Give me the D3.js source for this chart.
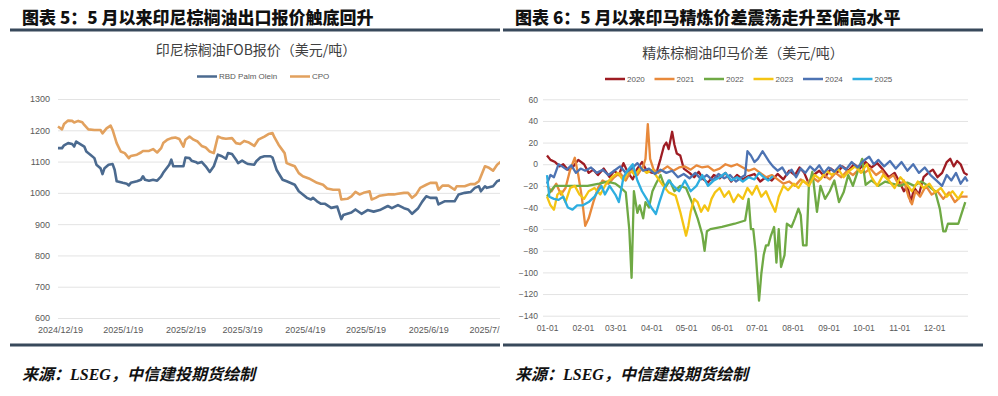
<!DOCTYPE html>
<html>
<head>
<meta charset="utf-8">
<script src="https://cdn.jsdelivr.net/npm/d3@7"></script>
<style>
  body { margin: 0; background: #fff; }
  svg text { font-family: "Noto Sans CJK SC", "Noto Sans", sans-serif; }
</style>
</head>
<body>
<svg id="page" width="998" height="396"></svg>
<script>
// ---------- 图表5 data ----------
const fobSeriesNames = ['RBD Palm Olein', 'CPO'];
const fobTickLabels = ['2024/12/19', '2025/1/19', '2025/2/19', '2025/3/19', '2025/4/19', '2025/5/19', '2025/6/19', '2025/7/19'];
const fobYTicks = [600, 700, 800, 900, 1000, 1100, 1200, 1300];

const rbdOlein = [["2024-12-18",1143],["2024-12-20",1143],["2024-12-21",1152],["2024-12-23",1159],["2024-12-25",1156],["2024-12-26",1148],["2024-12-27",1164],["2024-12-29",1156],["2024-12-31",1148],["2025-01-01",1132],["2025-01-03",1122],["2025-01-05",1111],["2025-01-06",1090],["2025-01-08",1079],["2025-01-09",1060],["2025-01-10",1079],["2025-01-12",1090],["2025-01-14",1092],["2025-01-15",1074],["2025-01-16",1037],["2025-01-19",1032],["2025-01-21",1029],["2025-01-22",1024],["2025-01-23",1032],["2025-01-26",1037],["2025-01-28",1042],["2025-01-29",1053],["2025-01-30",1042],["2025-02-01",1039],["2025-02-03",1042],["2025-02-05",1039],["2025-02-07",1053],["2025-02-08",1064],["2025-02-11",1090],["2025-02-12",1106],["2025-02-13",1085],["2025-02-16",1085],["2025-02-18",1085],["2025-02-19",1113],["2025-02-21",1111],["2025-02-22",1103],["2025-02-24",1099],["2025-02-25",1095],["2025-02-27",1099],["2025-03-01",1085],["2025-03-03",1067],["2025-03-05",1085],["2025-03-07",1122],["2025-03-09",1117],["2025-03-11",1109],["2025-03-12",1127],["2025-03-14",1124],["2025-03-16",1106],["2025-03-17",1095],["2025-03-19",1103],["2025-03-21",1095],["2025-03-22",1092],["2025-03-25",1090],["2025-03-26",1101],["2025-03-28",1113],["2025-03-30",1117],["2025-04-02",1117],["2025-04-03",1113],["2025-04-05",1074],["2025-04-08",1042],["2025-04-10",1037],["2025-04-14",1026],["2025-04-16",1005],["2025-04-18",995],["2025-04-20",984],["2025-04-22",979],["2025-04-23",984],["2025-04-25",973],["2025-04-27",965],["2025-04-29",965],["2025-05-02",952],["2025-05-05",956],["2025-05-07",916],["2025-05-08",929],["2025-05-12",937],["2025-05-14",947],["2025-05-17",933],["2025-05-20",945],["2025-05-23",940],["2025-05-26",945],["2025-05-30",958],["2025-06-01",951],["2025-06-04",961],["2025-06-07",951],["2025-06-09",947],["2025-06-11",933],["2025-06-14",951],["2025-06-16",972],["2025-06-18",989],["2025-06-20",984],["2025-06-23",984],["2025-06-24",963],["2025-06-27",973],["2025-06-29",973],["2025-07-02",973],["2025-07-04",995],["2025-07-07",1000],["2025-07-10",1003],["2025-07-12",1016],["2025-07-14",1021],["2025-07-15",1005],["2025-07-17",1021],["2025-07-18",1016],["2025-07-21",1021],["2025-07-23",1037],["2025-07-25",1042]];

const cpo = [["2024-12-18",1212],["2024-12-20",1203],["2024-12-21",1220],["2024-12-23",1231],["2024-12-25",1230],["2024-12-26",1225],["2024-12-28",1230],["2024-12-30",1226],["2024-12-31",1217],["2025-01-02",1203],["2025-01-05",1201],["2025-01-08",1201],["2025-01-09",1190],["2025-01-10",1198],["2025-01-11",1206],["2025-01-13",1215],["2025-01-14",1201],["2025-01-16",1159],["2025-01-18",1132],["2025-01-20",1127],["2025-01-22",1111],["2025-01-23",1118],["2025-01-26",1122],["2025-01-28",1129],["2025-01-29",1134],["2025-02-01",1134],["2025-02-03",1140],["2025-02-05",1129],["2025-02-07",1143],["2025-02-08",1159],["2025-02-10",1170],["2025-02-12",1175],["2025-02-14",1177],["2025-02-16",1172],["2025-02-18",1148],["2025-02-19",1170],["2025-02-21",1180],["2025-02-23",1170],["2025-02-25",1164],["2025-02-27",1150],["2025-03-01",1145],["2025-03-03",1132],["2025-03-05",1127],["2025-03-07",1180],["2025-03-09",1175],["2025-03-11",1173],["2025-03-14",1175],["2025-03-16",1159],["2025-03-18",1156],["2025-03-20",1166],["2025-03-22",1162],["2025-03-25",1150],["2025-03-27",1170],["2025-03-30",1180],["2025-04-01",1188],["2025-04-03",1191],["2025-04-04",1177],["2025-04-06",1154],["2025-04-09",1127],["2025-04-10",1095],["2025-04-12",1090],["2025-04-14",1085],["2025-04-16",1063],["2025-04-18",1053],["2025-04-21",1046],["2025-04-23",1039],["2025-04-25",1032],["2025-04-28",1026],["2025-04-30",1014],["2025-05-03",1010],["2025-05-06",1010],["2025-05-07",979],["2025-05-10",981],["2025-05-12",989],["2025-05-14",1003],["2025-05-16",995],["2025-05-18",1000],["2025-05-21",1005],["2025-05-22",979],["2025-05-24",984],["2025-05-26",991],["2025-05-30",995],["2025-06-02",995],["2025-06-04",997],["2025-06-07",1000],["2025-06-09",1000],["2025-06-11",984],["2025-06-13",995],["2025-06-15",1016],["2025-06-18",1026],["2025-06-20",1032],["2025-06-23",1032],["2025-06-24",1010],["2025-06-26",1023],["2025-06-29",1023],["2025-07-02",1010],["2025-07-03",1021],["2025-07-07",1021],["2025-07-10",1028],["2025-07-12",1028],["2025-07-14",1037],["2025-07-16",1069],["2025-07-17",1085],["2025-07-19",1080],["2025-07-21",1071],["2025-07-23",1090],["2025-07-25",1100]];

// ---------- 图表6 data ----------
const spreadYears = ['2020', '2021', '2022', '2023', '2024', '2025'];
const monthLabels = ['01-01', '02-01', '03-01', '04-01', '05-01', '06-01', '07-01', '08-01', '09-01', '10-01', '11-01', '12-01'];
const spreadYTicks = [-140, -120, -100, -80, -60, -40, -20, 0, 20, 40, 60];

const spread2020 = [["01-01",8],["01-04",4],["01-08",2],["01-12",-2],["01-15",0],["01-19",-5],["01-23",-3],["01-28",4],["02-02",0],["02-06",-8],["02-10",-5],["02-14",-10],["02-19",-4],["02-24",-12],["02-28",-6],["03-04",-10],["03-08",1],["03-12",-8],["03-16",-14],["03-20",-4],["03-24",2],["03-28",-6],["04-02",-8],["04-06",-6],["04-09",5],["04-12",17],["04-14",20],["04-16",14],["04-19",30],["04-21",18],["04-23",10],["04-26",8],["04-29",-4],["05-04",-8],["05-08",-12],["05-12",-7],["05-16",-14],["05-20",-17],["05-25",-10],["05-30",-13],["06-04",-8],["06-09",-16],["06-14",-10],["06-19",-14],["06-24",-11],["06-29",-9],["07-04",-16],["07-09",-12],["07-14",-15],["07-19",-9],["07-24",-14],["07-29",-6],["08-03",-10],["08-07",-3],["08-11",-8],["08-15",-18],["08-19",-10],["08-24",-6],["08-29",-12],["09-03",-4],["09-08",-8],["09-13",-2],["09-18",-6],["09-23",0],["09-28",-4],["10-03",2],["10-08",-3],["10-13",1],["10-18",-5],["10-23",-12],["10-28",-8],["11-02",-18],["11-05",-25],["11-08",-20],["11-11",-35],["11-14",-22],["11-18",-28],["11-22",-12],["11-26",-8],["11-30",-5],["12-04",-12],["12-08",-8],["12-12",2],["12-15",5],["12-18",-2],["12-21",3],["12-24",0],["12-27",-8],["12-30",-10]];

const spread2021 = [["01-01",-20],["01-05",-25],["01-09",-18],["01-13",-28],["01-17",-22],["01-21",-5],["01-25",6],["01-28",-10],["01-31",-30],["02-03",-57],["02-06",-50],["02-10",-35],["02-14",-22],["02-18",-15],["02-23",-18],["02-28",-12],["03-05",-8],["03-10",-15],["03-15",-5],["03-20",-10],["03-25",-2],["03-27",5],["03-29",37],["03-31",5],["04-03",-5],["04-07",-8],["04-11",-5],["04-15",-2],["04-20",-6],["04-25",-3],["04-30",-2],["05-05",-5],["05-10",-1],["05-15",-3],["05-20",-2],["05-25",-6],["05-30",-4],["06-04",0],["06-09",-2],["06-14",0],["06-19",-3],["06-24",-6],["06-29",-4],["07-04",-8],["07-09",-12],["07-14",-10],["07-19",-14],["07-24",-18],["07-29",-16],["08-03",-20],["08-08",-14],["08-13",-18],["08-18",-12],["08-23",-16],["08-28",-10],["09-02",-14],["09-07",-8],["09-12",-12],["09-17",-6],["09-22",-10],["09-27",-5],["10-02",-8],["10-07",-4],["10-12",-10],["10-17",-6],["10-22",-14],["10-27",-10],["11-01",-20],["11-05",-15],["11-09",-30],["11-12",-37],["11-15",-25],["11-19",-30],["11-24",-20],["11-29",-28],["12-04",-25],["12-09",-32],["12-14",-26],["12-19",-35],["12-24",-30],["12-30",-30]];

const spread2022 = [["01-01",-30],["01-04",-25],["01-08",-20],["01-12",-20],["01-20",-20],["01-28",-20],["02-05",-20],["02-15",-18],["02-22",-16],["03-01",-18],["03-06",-22],["03-10",-26],["03-13",-60],["03-15",-105],["03-17",-25],["03-20",-45],["03-22",-38],["03-25",-50],["03-27",-35],["03-30",-40],["04-02",-25],["04-05",-18],["04-09",-10],["04-13",-22],["04-17",-15],["04-21",-25],["04-26",-20],["05-01",-22],["05-06",-35],["05-11",-50],["05-15",-65],["05-17",-80],["05-19",-62],["05-22",-60],["06-01",-58],["06-12",-55],["06-21",-52],["06-24",-32],["06-26",-60],["06-28",-60],["06-30",-80],["07-03",-126],["07-05",-101],["07-07",-84],["07-09",-75],["07-11",-75],["07-13",-67],["07-16",-58],["07-18",-91],["07-20",-60],["07-22",-95],["07-25",-84],["07-27",-55],["07-31",-58],["08-03",-50],["08-06",-41],["08-08",-47],["08-10",-75],["08-13",-75],["08-15",-20],["08-18",-7],["08-22",-44],["08-25",-20],["08-29",-32],["09-02",-25],["09-06",-15],["09-10",-35],["09-14",-26],["09-18",-10],["09-22",-20],["09-26",-7],["09-30",5],["10-03",-19],["10-08",-15],["10-14",-20],["10-20",-16],["10-26",-18],["11-02",-20],["11-08",-17],["11-14",-20],["11-20",-16],["11-26",-20],["12-02",-25],["12-06",-41],["12-09",-62],["12-11",-62],["12-13",-55],["12-22",-55],["12-25",-45],["12-28",-35]];

const spread2023 = [["01-01",-30],["01-04",-38],["01-07",-42],["01-10",-28],["01-13",-25],["01-17",-35],["01-21",-22],["01-25",-20],["01-29",-28],["02-02",-32],["02-06",-25],["02-11",-22],["02-16",-28],["02-21",-18],["02-26",-12],["03-03",-8],["03-08",-15],["03-13",-5],["03-18",-10],["03-23",-3],["03-28",-8],["04-02",-5],["04-06",-12],["04-10",-18],["04-16",-26],["04-22",-29],["04-26",-44],["05-01",-66],["05-03",-57],["05-05",-44],["05-08",-32],["05-11",-35],["05-14",-44],["05-17",-38],["05-20",-43],["05-23",-32],["05-26",-26],["05-30",-22],["06-03",-30],["06-07",-25],["06-11",-35],["06-15",-28],["06-19",-32],["06-23",-22],["06-27",-28],["07-01",-20],["07-05",-30],["07-09",-25],["07-13",-35],["07-17",-44],["07-20",-30],["07-24",-20],["07-28",-24],["08-02",-18],["08-06",-22],["08-10",-15],["08-15",-20],["08-20",-10],["08-25",-14],["08-30",-6],["09-04",-10],["09-09",-4],["09-14",-12],["09-19",-6],["09-24",-2],["09-29",-8],["10-04",0],["10-08",-12],["10-13",-20],["10-18",-10],["10-23",-15],["10-28",-22],["11-02",-12],["11-07",-18],["11-12",-25],["11-17",-16],["11-22",-22],["11-27",-18],["12-02",-26],["12-07",-22],["12-12",-30],["12-17",-25],["12-22",-32],["12-26",-25]];

const spread2024 = [["01-01",-18],["01-04",-10],["01-07",-12],["01-11",0],["01-14",-2],["01-18",-5],["01-22",-1],["01-26",-8],["01-30",-4],["02-03",-6],["02-08",-3],["02-13",-8],["02-18",-5],["02-23",-10],["02-28",-6],["03-05",-2],["03-10",-8],["03-15",-4],["03-20",1],["03-25",-6],["03-30",-4],["04-04",-9],["04-09",-5],["04-14",-8],["04-19",-6],["04-24",-12],["04-29",-9],["05-04",-13],["05-09",-8],["05-14",-14],["05-19",-10],["05-24",-15],["05-29",-9],["06-03",-13],["06-08",-10],["06-13",-16],["06-18",-12],["06-21",-10],["06-23",12],["06-26",8],["06-29",2],["07-02",5],["07-06",12],["07-09",7],["07-12",2],["07-15",-2],["07-19",-6],["07-23",-3],["07-27",-10],["07-31",-5],["08-04",-12],["08-08",-4],["08-12",-8],["08-16",-2],["08-20",-6],["08-24",-1],["08-28",-8],["09-01",-3],["09-06",-7],["09-11",-1],["09-16",-5],["09-21",2],["09-26",-3],["10-01",3],["10-06",7],["10-10",0],["10-14",4],["10-19",-2],["10-24",3],["10-29",-4],["11-03",2],["11-08",-6],["11-13",0],["11-18",-8],["11-23",-3],["11-28",-10],["12-03",-15],["12-08",-20],["12-12",-10],["12-16",-15],["12-20",-8],["12-24",-18],["12-28",-12],["12-30",-16]];

const spread2025 = [["01-01",-10],["01-03",-30],["01-07",-32],["01-11",-33],["01-15",-30],["01-19",-40],["01-23",-42],["01-27",-38],["02-01",-38],["02-06",-35],["02-11",-30],["02-14",-25],["02-17",-20],["02-20",-28],["02-24",-20],["03-01",-28],["03-04",-35],["03-08",-12],["03-12",-5],["03-16",0],["03-20",-15],["03-24",-25],["03-28",-32],["04-01",-40],["04-05",-46],["04-08",-35],["04-12",-22],["04-16",-15],["04-20",-20],["04-25",-25],["04-30",-15],["05-05",-25],["05-10",-20],["05-15",-10],["05-20",-20],["05-25",-15],["05-30",-12],["06-04",-8],["06-09",-15],["06-14",-12],["06-19",-16],["06-24",-12],["06-29",-14],["07-03",-8],["07-07",-12],["07-11",-15],["07-15",-11]];

const spreadSeries = [spread2020, spread2021, spread2022, spread2023, spread2024, spread2025];

// ---------- colours ----------
const fobColors = ['#4b6a8f', '#e2a15e'];
const spreadColors = ['#9e1c23', '#e8893b', '#6fa944', '#f4c413', '#4d73b3', '#2eaee0'];
const ruleColor = '#38495b';
const gridColor = '#e3e3e3';
const labelColor = '#595959';

const svg = d3.select('#page');

function panelFrame(x0, x1, title) {
    // heading, top rule, bottom rule and source line of one panel
    svg.append('text')
        .attr('x', x0 + 12)
        .attr('y', 24)
        .style('font-size', '17px')
        .style('font-weight', '900')
        .style('fill', '#111')
        .text(title);

    svg.append('rect').attr('x', x0).attr('y', 28.5).attr('width', x1 - x0).attr('height', 3).attr('fill', ruleColor);
    svg.append('rect').attr('x', x0).attr('y', 343.5).attr('width', x1 - x0).attr('height', 3).attr('fill', ruleColor);

    const src = svg.append('text')
        .attr('x', x0 + 12)
        .attr('y', 380)
        .style('font-size', '16px')
        .style('font-weight', 'bold')
        .style('font-style', 'italic')
        .style('fill', '#111');
    src.append('tspan').text('来源：');
    src.append('tspan').style('font-family', '"Liberation Serif", serif').text('LSEG');
    src.append('tspan').text('，中信建投期货绘制');
}

function legend(items, colors, startX, gap, y) {
    const g = svg.append('g');
    items.forEach((name, i) => {
        const x = startX + gap[i];
        g.append('line')
            .attr('x1', x).attr('x2', x + 20)
            .attr('y1', y).attr('y2', y)
            .attr('stroke', colors[i])
            .attr('stroke-width', 2.5);
        g.append('text')
            .attr('x', x + 22)
            .attr('y', y)
            .attr('dy', '0.35em')
            .style('font-family', '"Liberation Sans", sans-serif')
            .style('font-size', '8px')
            .style('fill', labelColor)
            .text(name);
    });
}

function styleAxis(g, size) {
    g.select('.domain').remove();
    g.selectAll('text')
        .style('font-family', '"Liberation Sans", sans-serif')
        .style('font-size', size)
        .style('fill', labelColor);
}

// ---------- 图表5 ----------
function drawFob() {
    panelFrame(10, 500, '图表 5：5 月以来印尼棕榈油出口报价触底回升');

    svg.append('text')
        .attr('x', 256).attr('y', 55)
        .style('text-anchor', 'middle')
        .style('font-size', '14px')
        .style('fill', '#404040')
        .text('印尼棕榈油FOB报价（美元/吨）');

    legend(fobSeriesNames, fobColors, 197, [0, 93], 76.5);

    const parseIso = d3.timeParse('%Y-%m-%d');
    const parseTick = d3.timeParse('%Y/%m/%d');

    const x = d3.scaleTime()
        .domain([parseTick('2024/12/19'), parseTick('2025/6/19')])
        .range([60, 428.3]);
    const y = d3.scaleLinear().domain([600, 1300]).range([318, 99]);

    svg.append('clipPath').attr('id', 'clip-fob')
        .append('rect').attr('x', 0).attr('y', 35).attr('width', 500).attr('height', 305);

    const g = svg.append('g').attr('clip-path', 'url(#clip-fob)');

    const yAxis = g.append('g')
        .attr('transform', 'translate(58,0)')
        .call(d3.axisLeft(y).tickValues(fobYTicks).tickSize(-460).tickPadding(8).tickFormat(d3.format('d')));
    styleAxis(yAxis, '9px');
    yAxis.selectAll('line').attr('stroke', gridColor);

    const xAxis = g.append('g')
        .attr('transform', 'translate(0,318)')
        .call(d3.axisBottom(x)
            .tickValues(fobTickLabels.map(parseTick))
            .tickSize(0)
            .tickPadding(9)
            .tickFormat(d3.timeFormat('%Y/%-m/%-d')));
    styleAxis(xAxis, '9px');

    const line = d3.line()
        .x(d => x(parseIso(d[0])))
        .y(d => y(d[1]));

    [rbdOlein, cpo].forEach((series, i) => {
        g.append('path')
            .datum(series)
            .attr('d', line)
            .attr('fill', 'none')
            .attr('stroke', fobColors[i])
            .attr('stroke-width', 2.6)
            .attr('stroke-linejoin', 'round');
    });
}

// ---------- 图表6 ----------
function drawSpread() {
    panelFrame(503, 983, '图表 6：5 月以来印马精炼价差震荡走升至偏高水平');

    svg.append('text')
        .attr('x', 743).attr('y', 58)
        .style('text-anchor', 'middle')
        .style('font-size', '14px')
        .style('fill', '#404040')
        .text('精炼棕榈油印马价差（美元/吨）');

    legend(spreadYears, spreadColors, 605, [0, 49.5, 99, 148.5, 198, 247.5], 79);

    const parseDay = s => d3.timeParse('%Y-%m-%d')('2021-' + s);

    const x = d3.scaleTime()
        .domain([parseDay('01-01'), parseDay('12-01')])
        .range([547, 934]);
    const y = d3.scaleLinear().domain([-140, 60]).range([315.7, 99.3]);

    const yAxis = svg.append('g')
        .attr('transform', 'translate(543,0)')
        .call(d3.axisLeft(y).tickValues(spreadYTicks).tickSize(-425).tickPadding(5));
    styleAxis(yAxis, '8.5px');
    yAxis.selectAll('line').attr('stroke', gridColor);

    const xAxis = svg.append('g')
        .attr('transform', 'translate(0,315.7)')
        .call(d3.axisBottom(x)
            .tickValues(monthLabels.map(parseDay))
            .tickSize(0)
            .tickPadding(9)
            .tickFormat(d3.timeFormat('%m-%d')));
    styleAxis(xAxis, '8.5px');

    const line = d3.line()
        .x(d => x(parseDay(d[0])))
        .y(d => y(d[1]));

    spreadSeries.forEach((series, i) => {
        svg.append('path')
            .datum(series)
            .attr('d', line)
            .attr('fill', 'none')
            .attr('stroke', spreadColors[i])
            .attr('stroke-width', 2.3)
            .attr('stroke-linejoin', 'round');
    });
}

drawFob();
drawSpread();
</script>
</body>
</html>
